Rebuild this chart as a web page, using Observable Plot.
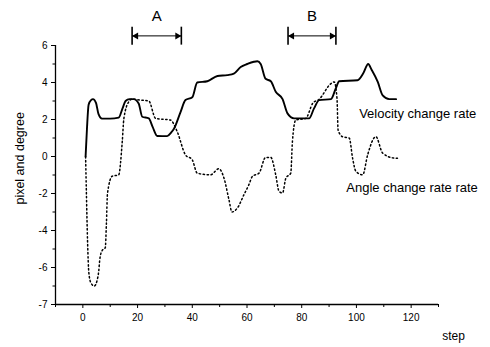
<!DOCTYPE html>
<html>
<head>
<meta charset="utf-8">
<script src="https://cdn.jsdelivr.net/npm/d3@7"></script>
<script src="https://cdn.jsdelivr.net/npm/@observablehq/plot@0.6"></script>
<style>
  html, body { margin: 0; padding: 0; background: #fff; }
  #chart svg { display: block; }
</style>
</head>
<body>
<div id="chart"></div>
<script>
// Velocity change rate (solid)
const velStep = [1, 1.5, 2.1, 3, 3.7, 4.8, 5.7, 7, 10, 13.1, 14.5, 15.6, 17, 18.6, 20.4, 21.7, 24.1, 25.5, 27.2, 30.8, 32.3, 33.3, 35.7, 37.5, 40, 41.8, 45.5, 49.2, 52.8, 55.2, 57.7, 60.1, 62.5, 63.8, 65, 66.8, 68.7, 70.5, 73, 74.8, 77.2, 82.7, 84.5, 86.4, 90.7, 92.5, 93.7, 100.4, 102.5, 104.3, 105.5, 107.8, 109.6, 112, 114.5];
const velValue = [0, 1.5, 2.8, 3.05, 3.1, 2.9, 2.3, 2.05, 2.05, 2.1, 2.6, 3.0, 3.1, 3.1, 2.87, 2.15, 2.06, 1.6, 1.11, 1.1, 1.3, 1.5, 2.4, 3.05, 3.2, 4.0, 4.07, 4.35, 4.4, 4.48, 4.84, 5.0, 5.12, 5.15, 5.0, 4.2, 4.07, 3.5, 3.1, 2.33, 2.06, 2.06, 2.6, 3.05, 3.1, 3.7, 4.07, 4.12, 4.5, 5.0, 4.7, 4.03, 3.3, 3.1, 3.1];

// Angle change rate (dotted)
const angStep = [1, 1.3, 1.7, 2.2, 3, 4.2, 5.2, 5.8, 6.2, 7, 8.2, 8.6, 9.0, 10.7, 13.1, 14.4, 15, 16.8, 18, 21, 24.1, 26.6, 32, 34.5, 37.5, 40, 41.8, 46.7, 49.7, 51.6, 53.4, 54.5, 56.5, 58.9, 60.7, 62, 64.4, 66.8, 68.7, 70.5, 71.7, 73, 74.2, 76, 76.6, 77.8, 81.5, 84, 86.4, 90.7, 91.9, 92.9, 93.3, 94.9, 97.4, 98.6, 99.8, 102.3, 104.1, 107.1, 109.6, 113.8, 115];
const angValue = [0, -2, -4.5, -6.3, -6.85, -7.0, -6.7, -6.2, -5.55, -5.1, -4.93, -3.66, -2.0, -1.07, -0.99, 0.8, 2.06, 2.96, 3.1, 3.05, 3.0, 2.06, 1.97, 1.34, 0.09, -0.18, -0.9, -0.99, -0.66, -1.17, -2.33, -3.0, -2.78, -2.06, -1.52, -1.07, -0.9, -0.05, -0.05, -0.99, -1.88, -1.97, -1.17, -0.9, 0.8, 1.97, 2.06, 2.87, 3.1, 3.94, 4.03, 3.13, 1.43, 1.07, 0.99, -0.09, -0.8, -0.99, 0.09, 1.07, 0.18, -0.09, -0.1];

// Axis ticks
const xMajor = [0, 20, 40, 60, 80, 100, 120];
const xMinor = [-10, 10, 30, 50, 70, 90, 110, 130];
const yMajor = [6, 4, 2, 0, -2, -4, -6, -8];
const yMajorLabels = ["6", "4", "2", "0", "-2", "-4", "-6", "-7"];
const yMinor = [5, 3, 1, -1, -3, -5, -7];

// Interval annotations
const intervalName = ["A", "B"];
const intervalStart = [18, 75];
const intervalEnd = [36, 92.5];

// Series labels
const seriesNames = ["Velocity change rate", "Angle change rate rate"];

const vel = velStep.map((s, i) => ({step: s, value: velValue[i]}));
const ang = angStep.map((s, i) => ({step: s, value: angValue[i]}));
const intervals = intervalName.map((n, i) => ({name: n, x1: intervalStart[i], x2: intervalEnd[i]}));
const labels = [
  {name: seriesNames[0], x: 101, y: 2.3},
  {name: seriesNames[1], x: 96.3, y: -1.72}
];
const yLabelMap = new Map(yMajor.map((v, i) => [v, yMajorLabels[i]]));

const chart = Plot.plot({
  width: 490,
  height: 347,
  marginLeft: 55,
  marginRight: 52,
  marginTop: 45,
  marginBottom: 43,
  x: {domain: [-10, 130]},
  y: {domain: [-8, 6]},
  style: {fontFamily: "'Liberation Sans', Arial, sans-serif", fontSize: "10px", background: "#fff", color: "#000"},
  marks: [
    Plot.ruleY([-8], {x1: -10, x2: 130, stroke: "#000", strokeWidth: 1.3}),
    Plot.ruleX([-10], {y1: -8, y2: 6, stroke: "#000", strokeWidth: 1.3}),
    Plot.axisX({ticks: xMajor, tickSize: 4, tickPadding: 5, label: null, tickFormat: d => d, fontSize: 10}),
    Plot.axisX({ticks: xMinor, tickSize: 3, label: null, tickFormat: () => ""}),
    Plot.axisY({ticks: yMajor, tickSize: 4, tickPadding: 4, label: null, tickFormat: d => yLabelMap.get(d), fontSize: 10}),
    Plot.axisY({ticks: yMinor, tickSize: 2.5, label: null, tickFormat: () => ""}),
    Plot.line(ang, {x: "step", y: "value", stroke: "#000", strokeWidth: 1.5, strokeDasharray: "1.4,2.6", curve: "monotone-x"}),
    Plot.line(vel, {x: "step", y: "value", stroke: "#000", strokeWidth: 1.9, curve: "monotone-x"}),
    Plot.text(labels, {x: "x", y: "y", text: "name", textAnchor: "start", fontSize: 13, fill: "#000"}),
    // interval brackets
    Plot.ruleX(intervals, {x: "x1", y1: 6.02, y2: 6.99, stroke: "#000", strokeWidth: 1.6}),
    Plot.ruleX(intervals, {x: "x2", y1: 6.02, y2: 6.99, stroke: "#000", strokeWidth: 1.6}),
    Plot.link(intervals, {x1: "x1", x2: "x2", y1: 6.52, y2: 6.52, stroke: "#000", strokeWidth: 1}),
    Plot.dot(intervals, {x: "x1", y: 6.52, dx: 4, symbol: "triangle", rotate: -90, r: 2.6, fill: "#000", stroke: null}),
    Plot.dot(intervals, {x: "x2", y: 6.52, dx: -4, symbol: "triangle", rotate: 90, r: 2.6, fill: "#000", stroke: null}),
    Plot.text(intervals, {x: d => (d.x1 + d.x2) / 2, y: 7.6, text: "name", fontSize: 15, fill: "#000"}),
    // axis titles
    Plot.text(["pixel and degree"], {x: -10, y: -0.1, dx: -36, rotate: -90, fontSize: 12.5, fill: "#000", text: d => d}),
    Plot.text(["step"], {x: 130, y: -8, dx: 15, dy: 32, fontSize: 12, fill: "#000", text: d => d})
  ]
});

document.getElementById("chart").appendChild(chart);
</script>
</body>
</html>
